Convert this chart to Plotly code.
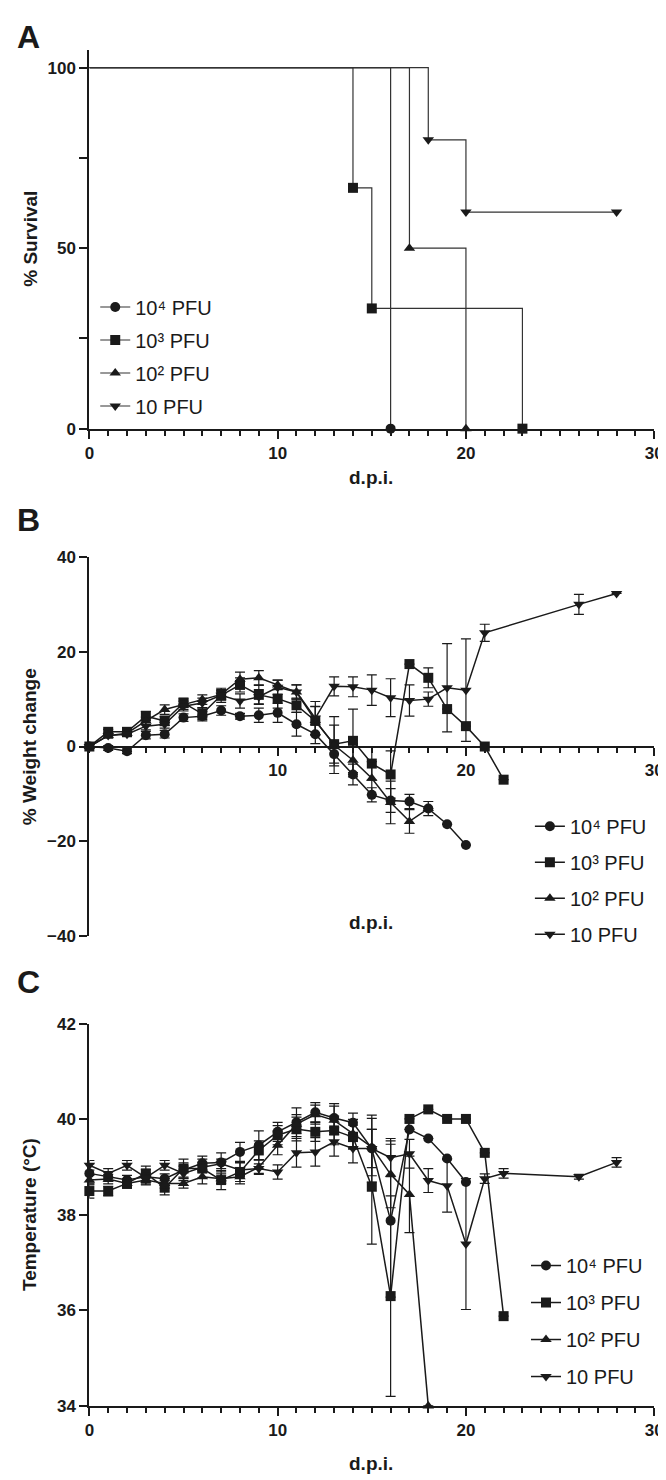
import plotly.graph_objects as go

W, H = 666, 1480
FONT = "Liberation Sans, Arial, sans-serif"
INK = "#1a1a1a"

# ---------------- data ----------------
series_names = ["10⁴ PFU", "10³ PFU", "10² PFU", "10 PFU"]
symbols = ["circle", "square", "triangle-up", "triangle-down"]

# Panel A: survival (%)
surv_e4_days = [0, 16]
surv_e4_pct = [100, 0]
surv_e3_days = [0, 14, 15, 23]
surv_e3_pct = [100, 66.7, 33.3, 0]
surv_e2_days = [0, 17, 20]
surv_e2_pct = [100, 50, 0]
surv_e1_days = [0, 18, 20, 28]
surv_e1_pct = [100, 80, 60, 60]

# Panel B: % weight change (mean, SD)
wt_e4_days = list(range(0, 21))
wt_e4 = [0, -0.3, -1.0, 2.4, 2.6, 6.1, 6.4, 7.6, 6.4, 6.6, 7.1, 4.7, 2.6, -1.6, -5.9, -10.2, -11.4, -11.6, -13.1, -16.4, -20.8]
wt_e4_sd = [0, 0.5, 0.5, 0.8, 0.8, 0.8, 1.0, 1.0, 0.6, 1.5, 2.0, 2.5, 2.0, 2.5, 2.2, 1.5, 2.5, 1.5, 1.5, 0, 0]
wt_e3_days = list(range(0, 23))
wt_e3 = [0, 3.1, 3.1, 6.4, 5.4, 9.2, 6.9, 10.8, 13.0, 10.9, 10.1, 8.7, 5.4, 0.5, 1.2, -3.6, -5.9, 17.4, 14.5, 7.9, 4.3, 0, -7.0]
wt_e3_sd = [0, 0.5, 0.5, 1.0, 1.0, 1.0, 1.2, 1.5, 1.5, 2.0, 2.0, 1.5, 3.0, 4.0, 6.7, 3.5, 5.0, 0, 2.1, 0, 0, 0, 0]
wt_e2_days = list(range(0, 19))
wt_e2 = [0, 2.3, 2.8, 5.4, 7.8, 8.8, 9.9, 11.0, 14.2, 14.5, 13.0, 11.5, 5.5, 0.3, -2.9, -6.7, -11.8, -15.8, -13.1]
wt_e2_sd = [0, 0.5, 0.5, 0.8, 1.0, 1.0, 1.0, 1.0, 1.5, 1.5, 1.0, 1.5, 3.0, 6.0, 3.5, 3.5, 4.5, 2.5, 0]
wt_e1_days = list(range(0, 22)) + [26, 28]
wt_e1 = [0, 2.3, 2.6, 4.3, 4.7, 8.5, 9.2, 10.8, 9.6, 10.5, 12.5, 11.5, 6.0, 12.7, 12.6, 11.9, 10.3, 9.7, 10.0, 12.4, 11.9, 24.0, 30.0, 32.3]
wt_e1_sd = [0, 0.5, 0.5, 0.8, 0.8, 1.0, 1.0, 1.0, 1.5, 1.5, 1.5, 1.5, 3.5, 2.0, 2.1, 3.2, 4.0, 3.3, 1.5, 9.3, 10.8, 1.8, 2.1, 0]

# Panel C: temperature (°C, mean, SD)
tp_e4_days = list(range(0, 21))
tp_e4 = [38.87, 38.8, 38.73, 38.8, 38.76, 38.94, 39.08, 39.1, 39.32, 39.46, 39.74, 39.94, 40.15, 40.03, 39.93, 39.39, 37.88, 39.79, 39.6, 39.18, 38.69]
tp_e4_sd = [0.2, 0.1, 0.1, 0.15, 0.1, 0.15, 0.15, 0.2, 0.2, 0.3, 0.2, 0.3, 0.2, 0.3, 0.2, 0.7, 1.6, 0, 0, 0, 0]
tp_e3_days = list(range(0, 23))
tp_e3 = [38.5, 38.5, 38.66, 38.87, 38.57, 38.97, 38.97, 38.73, 38.9, 39.35, 39.67, 39.8, 39.74, 39.77, 39.63, 38.59, 36.3, 40.01, 40.21, 40.01, 40.01, 39.3, 35.88]
tp_e3_sd = [0.15, 0.1, 0.1, 0.15, 0.15, 0.2, 0.2, 0.2, 0.2, 0.2, 0.2, 0.25, 0.2, 0.3, 0.25, 1.2, 2.1, 0, 0, 0, 0, 0, 0]
tp_e2_days = list(range(0, 19))
tp_e2 = [38.73, 38.75, 38.66, 38.73, 38.66, 38.66, 38.8, 38.76, 38.8, 39.0, 39.46, 39.9, 40.1, 39.98, 39.7, 39.42, 38.85, 38.43, 34.0]
tp_e2_sd = [0.1, 0.1, 0.1, 0.1, 0.1, 0.1, 0.15, 0.1, 0.15, 0.15, 0.2, 0.2, 0.2, 0.3, 0.3, 0.6, 0.7, 0.8, 0]
tp_e1_days = list(range(0, 23)) + [26, 28]
tp_e1 = [39.04, 38.87, 39.04, 38.78, 39.04, 38.87, 39.0, 39.07, 38.94, 38.97, 38.9, 39.3, 39.32, 39.53, 39.39, 39.39, 39.2, 39.28, 38.72, 38.61, 37.39, 38.76, 38.87, 38.8, 39.1]
tp_e1_sd = [0.1, 0.1, 0.1, 0.1, 0.1, 0.15, 0.1, 0.1, 0.15, 0.1, 0.15, 0.3, 0.3, 0.3, 0.3, 0.4, 0.4, 0.3, 0.25, 0.55, 1.37, 0.1, 0.1, 0.05, 0.1]

# ---------------- layout helpers ----------------
def py(p):  # pixel from top -> paper y
    return 1 - p / H

def px(p):
    return p / W

XDOM = [px(78), px(655)]
A_DOM = [py(417), py(33)]
B_DOM = [py(931), py(547)]
B_ZERO = py(739)
C_DOM = [py(1407), py(1020)]

fig = go.Figure()

# Panel A
surv = [(surv_e4_days, surv_e4_pct), (surv_e3_days, surv_e3_pct),
        (surv_e2_days, surv_e2_pct), (surv_e1_days, surv_e1_pct)]
for i, (d, p) in enumerate(surv):
    fig.add_trace(go.Scatter(x=d, y=p, mode="lines", line=dict(color="#333333", width=1.2, shape="hv"),
                             showlegend=False, xaxis="x", yaxis="y", cliponaxis=False, hoverinfo="skip"))
    fig.add_trace(go.Scatter(x=d[1:], y=p[1:], mode="markers",
                             marker=dict(symbol=symbols[i], size=10, color=INK),
                             showlegend=False, xaxis="x", yaxis="y", cliponaxis=False))
    fig.add_trace(go.Scatter(x=[None], y=[None], mode="lines+markers", name=series_names[i],
                             line=dict(color="#333333", width=1.2),
                             marker=dict(symbol=symbols[i], size=10, color=INK),
                             legend="legend", legendgroup="A%d" % i, xaxis="x", yaxis="y"))

# Panel B
wts = [(wt_e4_days, wt_e4, wt_e4_sd), (wt_e3_days, wt_e3, wt_e3_sd),
       (wt_e2_days, wt_e2, wt_e2_sd), (wt_e1_days, wt_e1, wt_e1_sd)]
for i, (d, v, s) in enumerate(wts):
    fig.add_trace(go.Scatter(x=d, y=v, mode="lines+markers", name=series_names[i],
                             line=dict(color=INK, width=1.5),
                             marker=dict(symbol=symbols[i], size=10, color=INK),
                             error_y=dict(type="data", array=s, width=5, thickness=1.2, color=INK),
                             legend="legend2", legendgroup="B%d" % i,
                             xaxis="x2", yaxis="y2", cliponaxis=False))

# Panel C
tps = [(tp_e4_days, tp_e4, tp_e4_sd), (tp_e3_days, tp_e3, tp_e3_sd),
       (tp_e2_days, tp_e2, tp_e2_sd), (tp_e1_days, tp_e1, tp_e1_sd)]
for i, (d, v, s) in enumerate(tps):
    fig.add_trace(go.Scatter(x=d, y=v, mode="lines+markers", name=series_names[i],
                             line=dict(color=INK, width=1.5),
                             marker=dict(symbol=symbols[i], size=10, color=INK),
                             error_y=dict(type="data", array=s, width=5, thickness=1.2, color=INK),
                             legend="legend3", legendgroup="C%d" % i,
                             xaxis="x3", yaxis="y3", cliponaxis=False))

tickfont = dict(family=FONT, size=17, color=INK, weight="bold")
base = dict(showline=True, linecolor=INK, linewidth=2, ticks="outside", ticklen=8, tickwidth=2,
            tickcolor=INK, showgrid=False, zeroline=False, tickfont=tickfont, fixedrange=True)
xminor = dict(dtick=1, ticks="outside", ticklen=5, tickwidth=1.5, tickcolor=INK)

legfont = dict(family=FONT, size=20, color=INK)

fig.update_layout(
    width=W, height=H, margin=dict(l=0, r=0, t=0, b=0),
    paper_bgcolor="white", plot_bgcolor="white",
    xaxis=dict(base, domain=XDOM, range=[0, 30], tickvals=[0, 10, 20, 30], minor=xminor, anchor="y"),
    yaxis=dict(base, domain=A_DOM, range=[0, 105], tickvals=[0, 50, 100],
               minor=dict(tickvals=[25, 75], ticks="outside", ticklen=8, tickwidth=2, tickcolor=INK), anchor="x"),
    xaxis2=dict(base, domain=XDOM, range=[0, 30], tickvals=[10, 20, 30],
                minor=xminor, anchor="free", position=B_ZERO),
    yaxis2=dict(base, domain=B_DOM, range=[-40, 40], tickvals=[-40, -20, 0, 20, 40], anchor="x2"),
    xaxis3=dict(base, domain=XDOM, range=[0, 30], tickvals=[0, 10, 20, 30], minor=xminor, anchor="y3"),
    yaxis3=dict(base, domain=C_DOM, range=[34, 42], tickvals=[34, 36, 38, 40, 42], anchor="x3"),
    legend=dict(x=px(84), y=py(274), xanchor="left", yanchor="top", font=legfont,
                bgcolor="rgba(0,0,0,0)", traceorder="grouped", tracegroupgap=4),
    legend2=dict(x=px(528), y=py(800), xanchor="left", yanchor="top", font=legfont,
                 bgcolor="rgba(0,0,0,0)", traceorder="grouped", tracegroupgap=7),
    legend3=dict(x=px(524), y=py(1245), xanchor="left", yanchor="top", font=legfont,
                 bgcolor="rgba(0,0,0,0)", traceorder="grouped", tracegroupgap=8),
    showlegend=True,
)

def ann(text, x, y, size, bold=True, angle=0, xanchor="center"):
    fig.add_annotation(text=text, x=px(x), y=py(y), xref="paper", yref="paper", showarrow=False,
                       xanchor=xanchor, yanchor="middle", textangle=angle,
                       font=dict(family=FONT, size=size, color=INK, weight="bold" if bold else "normal"))

ann("A", 2, 20, 32, xanchor="left")
ann("B", 2, 510, 32, xanchor="left")
ann("C", 2, 978, 32, xanchor="left")
ann("% Survival", 17, 225, 19, angle=-90)
ann("% Weight change", 17, 739, 19, angle=-90)
ann("Temperature (°C)", 17, 1213, 19, angle=-90)
ann("d.p.i.", 366, 466, 19)
ann("d.p.i.", 366, 917, 19)
ann("d.p.i.", 366, 1465, 19)

fig.write_html("out.html")
